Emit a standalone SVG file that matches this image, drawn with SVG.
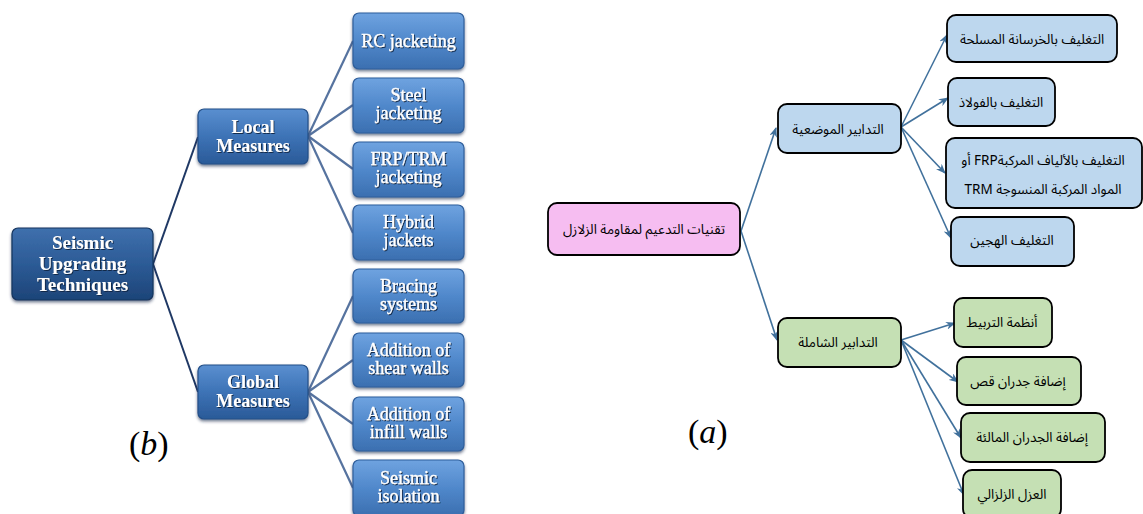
<svg xmlns="http://www.w3.org/2000/svg" width="1143" height="514" viewBox="0 0 1143 514">
<defs>
  <linearGradient id="gLeaf" x1="0" y1="0" x2="0" y2="1">
    <stop offset="0" stop-color="#6fa3e0"/>
    <stop offset="0.5" stop-color="#5088cb"/>
    <stop offset="1" stop-color="#3b6fb0"/>
  </linearGradient>
  <linearGradient id="gMid" x1="0" y1="0" x2="0" y2="1">
    <stop offset="0" stop-color="#5a8fd0"/>
    <stop offset="0.5" stop-color="#3d73b6"/>
    <stop offset="1" stop-color="#2a5a98"/>
  </linearGradient>
  <linearGradient id="gRoot" x1="0" y1="0" x2="0" y2="1">
    <stop offset="0" stop-color="#3f70ad"/>
    <stop offset="0.5" stop-color="#2c5b96"/>
    <stop offset="1" stop-color="#1d4478"/>
  </linearGradient>
  <filter id="sh" x="-10%" y="-10%" width="120%" height="130%">
    <feDropShadow dx="0" dy="2" stdDeviation="1.5" flood-color="#1a2f4f" flood-opacity="0.6"/>
  </filter>
  <filter id="tsh" x="-10%" y="-20%" width="120%" height="140%">
    <feDropShadow dx="1" dy="1" stdDeviation="0.6" flood-color="#0d2240" flood-opacity="0.9"/>
  </filter>
  <marker id="ah" viewBox="0 0 10 8" refX="9" refY="4" markerWidth="10" markerHeight="8" markerUnits="userSpaceOnUse" orient="auto">
    <path d="M0,0 L10,4 L0,8 L3,4 z" fill="#41719c"/>
  </marker>
</defs>
<style>
  .leaf { fill: url(#gLeaf); stroke: #2f5e9b; stroke-width: 1.2; filter: url(#sh); }
  .mid { fill: url(#gMid); stroke: #234f88; stroke-width: 1.2; filter: url(#sh); }
  .root { fill: url(#gRoot); stroke: #15345e; stroke-width: 1.2; filter: url(#sh); }
  .bt { font-family: "Liberation Serif", serif; font-size: 18px; fill: #ffffff; text-anchor: middle; filter: url(#tsh); stroke: #ffffff; stroke-width: 0.3; }
  .bb { font-family: "Liberation Serif", serif; font-size: 18px; font-weight: bold; fill: #ffffff; text-anchor: middle; filter: url(#tsh); }
  .br { font-family: "Liberation Serif", serif; font-size: 19px; font-weight: bold; fill: #ffffff; text-anchor: middle; filter: url(#tsh); }
  .l1 { fill: none; stroke: #1f3864; stroke-width: 2; }
  .l2 { fill: none; stroke: #56739f; stroke-width: 2.2; }
  .ab { fill: #bdd7ee; stroke: #000000; stroke-width: 1.8; }
  .ag { fill: #c5e0b4; stroke: #000000; stroke-width: 1.8; }
  .ap { fill: #f6bdf1; stroke: #000000; stroke-width: 1.8; }
  .at { font-family: "Noto Sans Arabic", "DejaVu Sans", sans-serif; font-size: 13.5px; fill: #000000; text-anchor: middle; direction: rtl; }
  .ar { fill: none; stroke: #41719c; stroke-width: 1.6; marker-end: url(#ah); }
  .lab { font-family: "Liberation Serif", serif; font-size: 34px; fill: #000000; }
</style>
<rect x="0" y="0" width="1143" height="514" fill="#ffffff"/>

<!-- connectors (b) -->
<g id="connectors-b">
  <path class="l1" d="M153,264 L198,137"/>
  <path class="l1" d="M153,264 L198,392"/>
  <path class="l2" d="M308,136 L353,41"/>
  <path class="l2" d="M308,136 L353,105"/>
  <path class="l2" d="M308,136 L353,169"/>
  <path class="l2" d="M308,136 L353,233"/>
  <path class="l2" d="M308,392 L353,296"/>
  <path class="l2" d="M308,392 L353,360"/>
  <path class="l2" d="M308,392 L353,424"/>
  <path class="l2" d="M308,392 L353,488"/>
</g>

<!-- nodes (b) -->
<g id="b-root">
  <rect class="root" x="12" y="228" width="141" height="72" rx="6"/>
  <text class="br" x="82.5" y="249">Seismic</text>
  <text class="br" x="82.5" y="270">Upgrading</text>
  <text class="br" x="82.5" y="291">Techniques</text>
</g>
<g id="b-local">
  <rect class="mid" x="198" y="109" width="110" height="55" rx="6"/>
  <text class="bb" x="253" y="133">Local</text>
  <text class="bb" x="253" y="152">Measures</text>
</g>
<g id="b-global">
  <rect class="mid" x="198" y="365" width="110" height="54" rx="6"/>
  <text class="bb" x="253" y="388">Global</text>
  <text class="bb" x="253" y="407">Measures</text>
</g>
<g id="b-rc">
  <rect class="leaf" x="353" y="13" width="111" height="56" rx="6"/>
  <text class="bt" x="408.5" y="47">RC jacketing</text>
</g>
<g id="b-steel">
  <rect class="leaf" x="353" y="78" width="111" height="55" rx="6"/>
  <text class="bt" x="408.5" y="101">Steel</text>
  <text class="bt" x="408.5" y="119">jacketing</text>
</g>
<g id="b-frp">
  <rect class="leaf" x="353" y="142" width="111" height="55" rx="6"/>
  <text class="bt" x="408.5" y="165">FRP/TRM</text>
  <text class="bt" x="408.5" y="183">jacketing</text>
</g>
<g id="b-hybrid">
  <rect class="leaf" x="353" y="205" width="111" height="55" rx="6"/>
  <text class="bt" x="408.5" y="228">Hybrid</text>
  <text class="bt" x="408.5" y="246">jackets</text>
</g>
<g id="b-bracing">
  <rect class="leaf" x="353" y="269" width="111" height="54" rx="6"/>
  <text class="bt" x="408.5" y="292">Bracing</text>
  <text class="bt" x="408.5" y="310">systems</text>
</g>
<g id="b-shear">
  <rect class="leaf" x="353" y="333" width="111" height="54" rx="6"/>
  <text class="bt" x="408.5" y="356">Addition of</text>
  <text class="bt" x="408.5" y="374">shear walls</text>
</g>
<g id="b-infill">
  <rect class="leaf" x="353" y="397" width="111" height="54" rx="6"/>
  <text class="bt" x="408.5" y="420">Addition of</text>
  <text class="bt" x="408.5" y="438">infill walls</text>
</g>
<g id="b-isolation">
  <rect class="leaf" x="353" y="460" width="111" height="56" rx="6"/>
  <text class="bt" x="408.5" y="484">Seismic</text>
  <text class="bt" x="408.5" y="502">isolation</text>
</g>
<text class="lab" x="129" y="455">(<tspan font-style="italic">b</tspan>)</text>

<!-- connectors (a) -->
<g id="connectors-a">
  <path class="ar" d="M741,231 L776,128"/>
  <path class="ar" d="M741,231 L777,340"/>
  <path class="ar" d="M901,127 L947,35"/>
  <path class="ar" d="M901,127 L948,98"/>
  <path class="ar" d="M901,127 L945,173"/>
  <path class="ar" d="M901,127 L951,238"/>
  <path class="ar" d="M901,340 L955,323"/>
  <path class="ar" d="M901,340 L958,382"/>
  <path class="ar" d="M901,340 L961,438"/>
  <path class="ar" d="M901,340 L964,495"/>
</g>

<!-- nodes (a) -->
<g id="a-root">
  <rect class="ap" x="548" y="203" width="192" height="52" rx="9"/>
  <text class="at" x="644" y="234">تقنيات التدعيم لمقاومة الزلازل</text>
</g>
<g id="a-local">
  <rect class="ab" x="778" y="104" width="123" height="49" rx="9"/>
  <text class="at" x="838" y="134">التدابير الموضعية</text>
</g>
<g id="a-global">
  <rect class="ag" x="778" y="318" width="123" height="49" rx="9"/>
  <text class="at" x="838" y="347">التدابير الشاملة</text>
</g>
<g id="a-rc">
  <rect class="ab" x="947" y="15" width="170" height="47" rx="9"/>
  <text class="at" x="1032" y="44">التغليف بالخرسانة المسلحة</text>
</g>
<g id="a-steel">
  <rect class="ab" x="948" y="78" width="107" height="48" rx="9"/>
  <text class="at" x="1001" y="107">التغليف بالفولاذ</text>
</g>
<g id="a-frp">
  <rect class="ab" x="946" y="138" width="196" height="70" rx="9"/>
  <text class="at" x="1043" y="165">التغليف بالألياف المركبةFRP أو</text>
  <text class="at" x="1043" y="194">المواد المركبة المنسوجة TRM</text>
</g>
<g id="a-hybrid">
  <rect class="ab" x="951" y="217" width="123" height="49" rx="9"/>
  <text class="at" x="1012" y="245">التغليف الهجين</text>
</g>
<g id="a-bracing">
  <rect class="ag" x="954" y="298" width="98" height="49" rx="9"/>
  <text class="at" x="1002" y="327">أنظمة التربيط</text>
</g>
<g id="a-shear">
  <rect class="ag" x="957" y="357" width="124" height="48" rx="9"/>
  <text class="at" x="1018" y="386">إضافة جدران قص</text>
</g>
<g id="a-infill">
  <rect class="ag" x="961" y="413" width="144" height="49" rx="9"/>
  <text class="at" x="1032" y="442">إضافة الجدران المالئة</text>
</g>
<g id="a-isolation">
  <rect class="ag" x="963" y="470" width="98" height="48" rx="9"/>
  <text class="at" x="1012" y="499">العزل الزلزالي</text>
</g>
<text class="lab" x="688" y="443">(<tspan font-style="italic">a</tspan>)</text>
</svg>
